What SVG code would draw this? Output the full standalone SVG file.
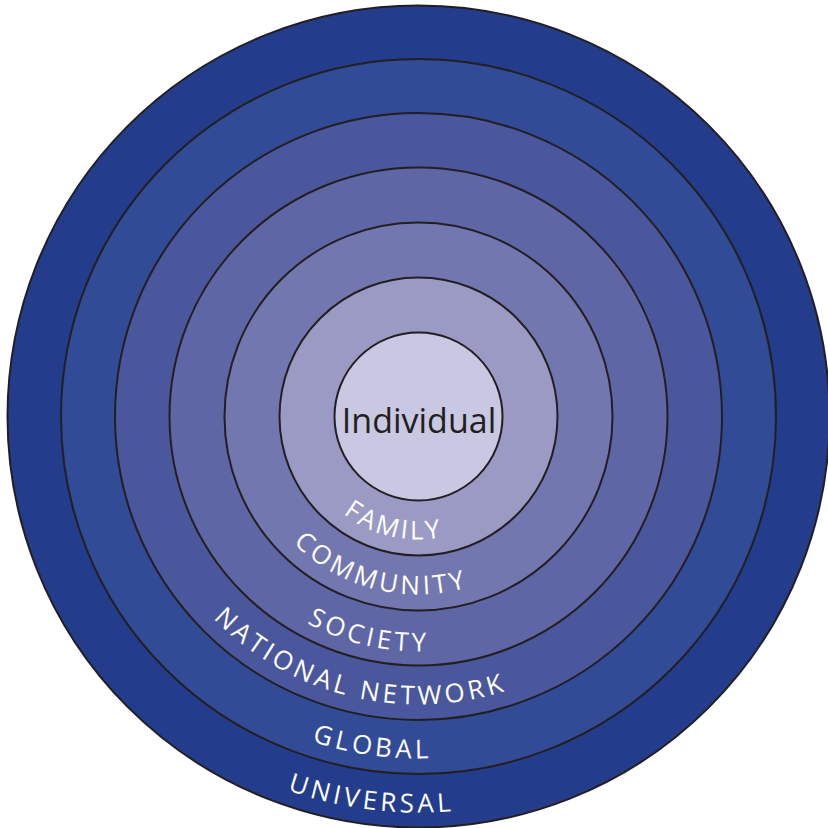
<svg xmlns="http://www.w3.org/2000/svg" width="828" height="828" viewBox="0 0 828 828">
<style>
.ring{stroke:#231f20;stroke-width:2}
.lbl{fill:#ffffff;font-family:"Open Sans","Noto Sans",sans-serif;font-size:26px;letter-spacing:3.8px}
.core{fill:#231f20;font-family:"Open Sans","Noto Sans",sans-serif;font-size:34px}
</style>
<defs>
<path id="pF" d="M295.5,416.5 A123,123 0 0 0 541.5,416.5"/>
<path id="pC" d="M240.5,416.5 A178,178 0 0 0 596.5,416.5"/>
<path id="pS" d="M183.5,416.5 A235,235 0 0 0 653.5,416.5"/>
<path id="pN" d="M130.5,416.5 A288,288 0 0 0 706.5,416.5"/>
<path id="pG" d="M76.5,416.5 A342,342 0 0 0 760.5,416.5"/>
<path id="pU" d="M22.5,416.5 A396,396 0 0 0 814.5,416.5"/>
</defs>
<rect width="828" height="828" fill="#ffffff"/>
<g id="universal">
<circle class="ring" cx="418.5" cy="416.5" r="411" fill="#233d8c"/>
<text class="lbl" text-anchor="middle"><textPath href="#pU" startOffset="46.1%">UNIVERSAL</textPath></text>
</g>
<g id="global">
<circle class="ring" cx="418.5" cy="416.5" r="357.5" fill="#324b96"/>
<text class="lbl" text-anchor="middle"><textPath href="#pG" startOffset="45.6%">GLOBAL</textPath></text>
</g>
<g id="national-network">
<circle class="ring" cx="418.5" cy="416.5" r="303.5" fill="#4a579d"/>
<text class="lbl" text-anchor="middle"><textPath href="#pN" startOffset="42.4%">NATIONAL NETWORK</textPath></text>
</g>
<g id="society">
<circle class="ring" cx="418.5" cy="416.5" r="249" fill="#5e66a6"/>
<text class="lbl" text-anchor="middle"><textPath href="#pS" startOffset="42.9%">SOCIETY</textPath></text>
</g>
<g id="community">
<circle class="ring" cx="418.5" cy="416.5" r="194" fill="#7377b0"/>
<text class="lbl" text-anchor="middle" style="letter-spacing:3.6px"><textPath href="#pC" startOffset="42.2%">COMMUNITY</textPath></text>
</g>
<g id="family">
<circle class="ring" cx="418.5" cy="416.5" r="139" fill="#9a9ac5"/>
<text class="lbl" text-anchor="middle" style="letter-spacing:3px"><textPath href="#pF" startOffset="42.8%">FAMILY</textPath></text>
</g>
<g id="individual">
<circle class="ring" cx="418.5" cy="416.5" r="84" fill="#c8c8e2"/>
<text class="core" x="419" y="433" text-anchor="middle">Individual</text>
</g>
<g id="connectors"/>
</svg>
